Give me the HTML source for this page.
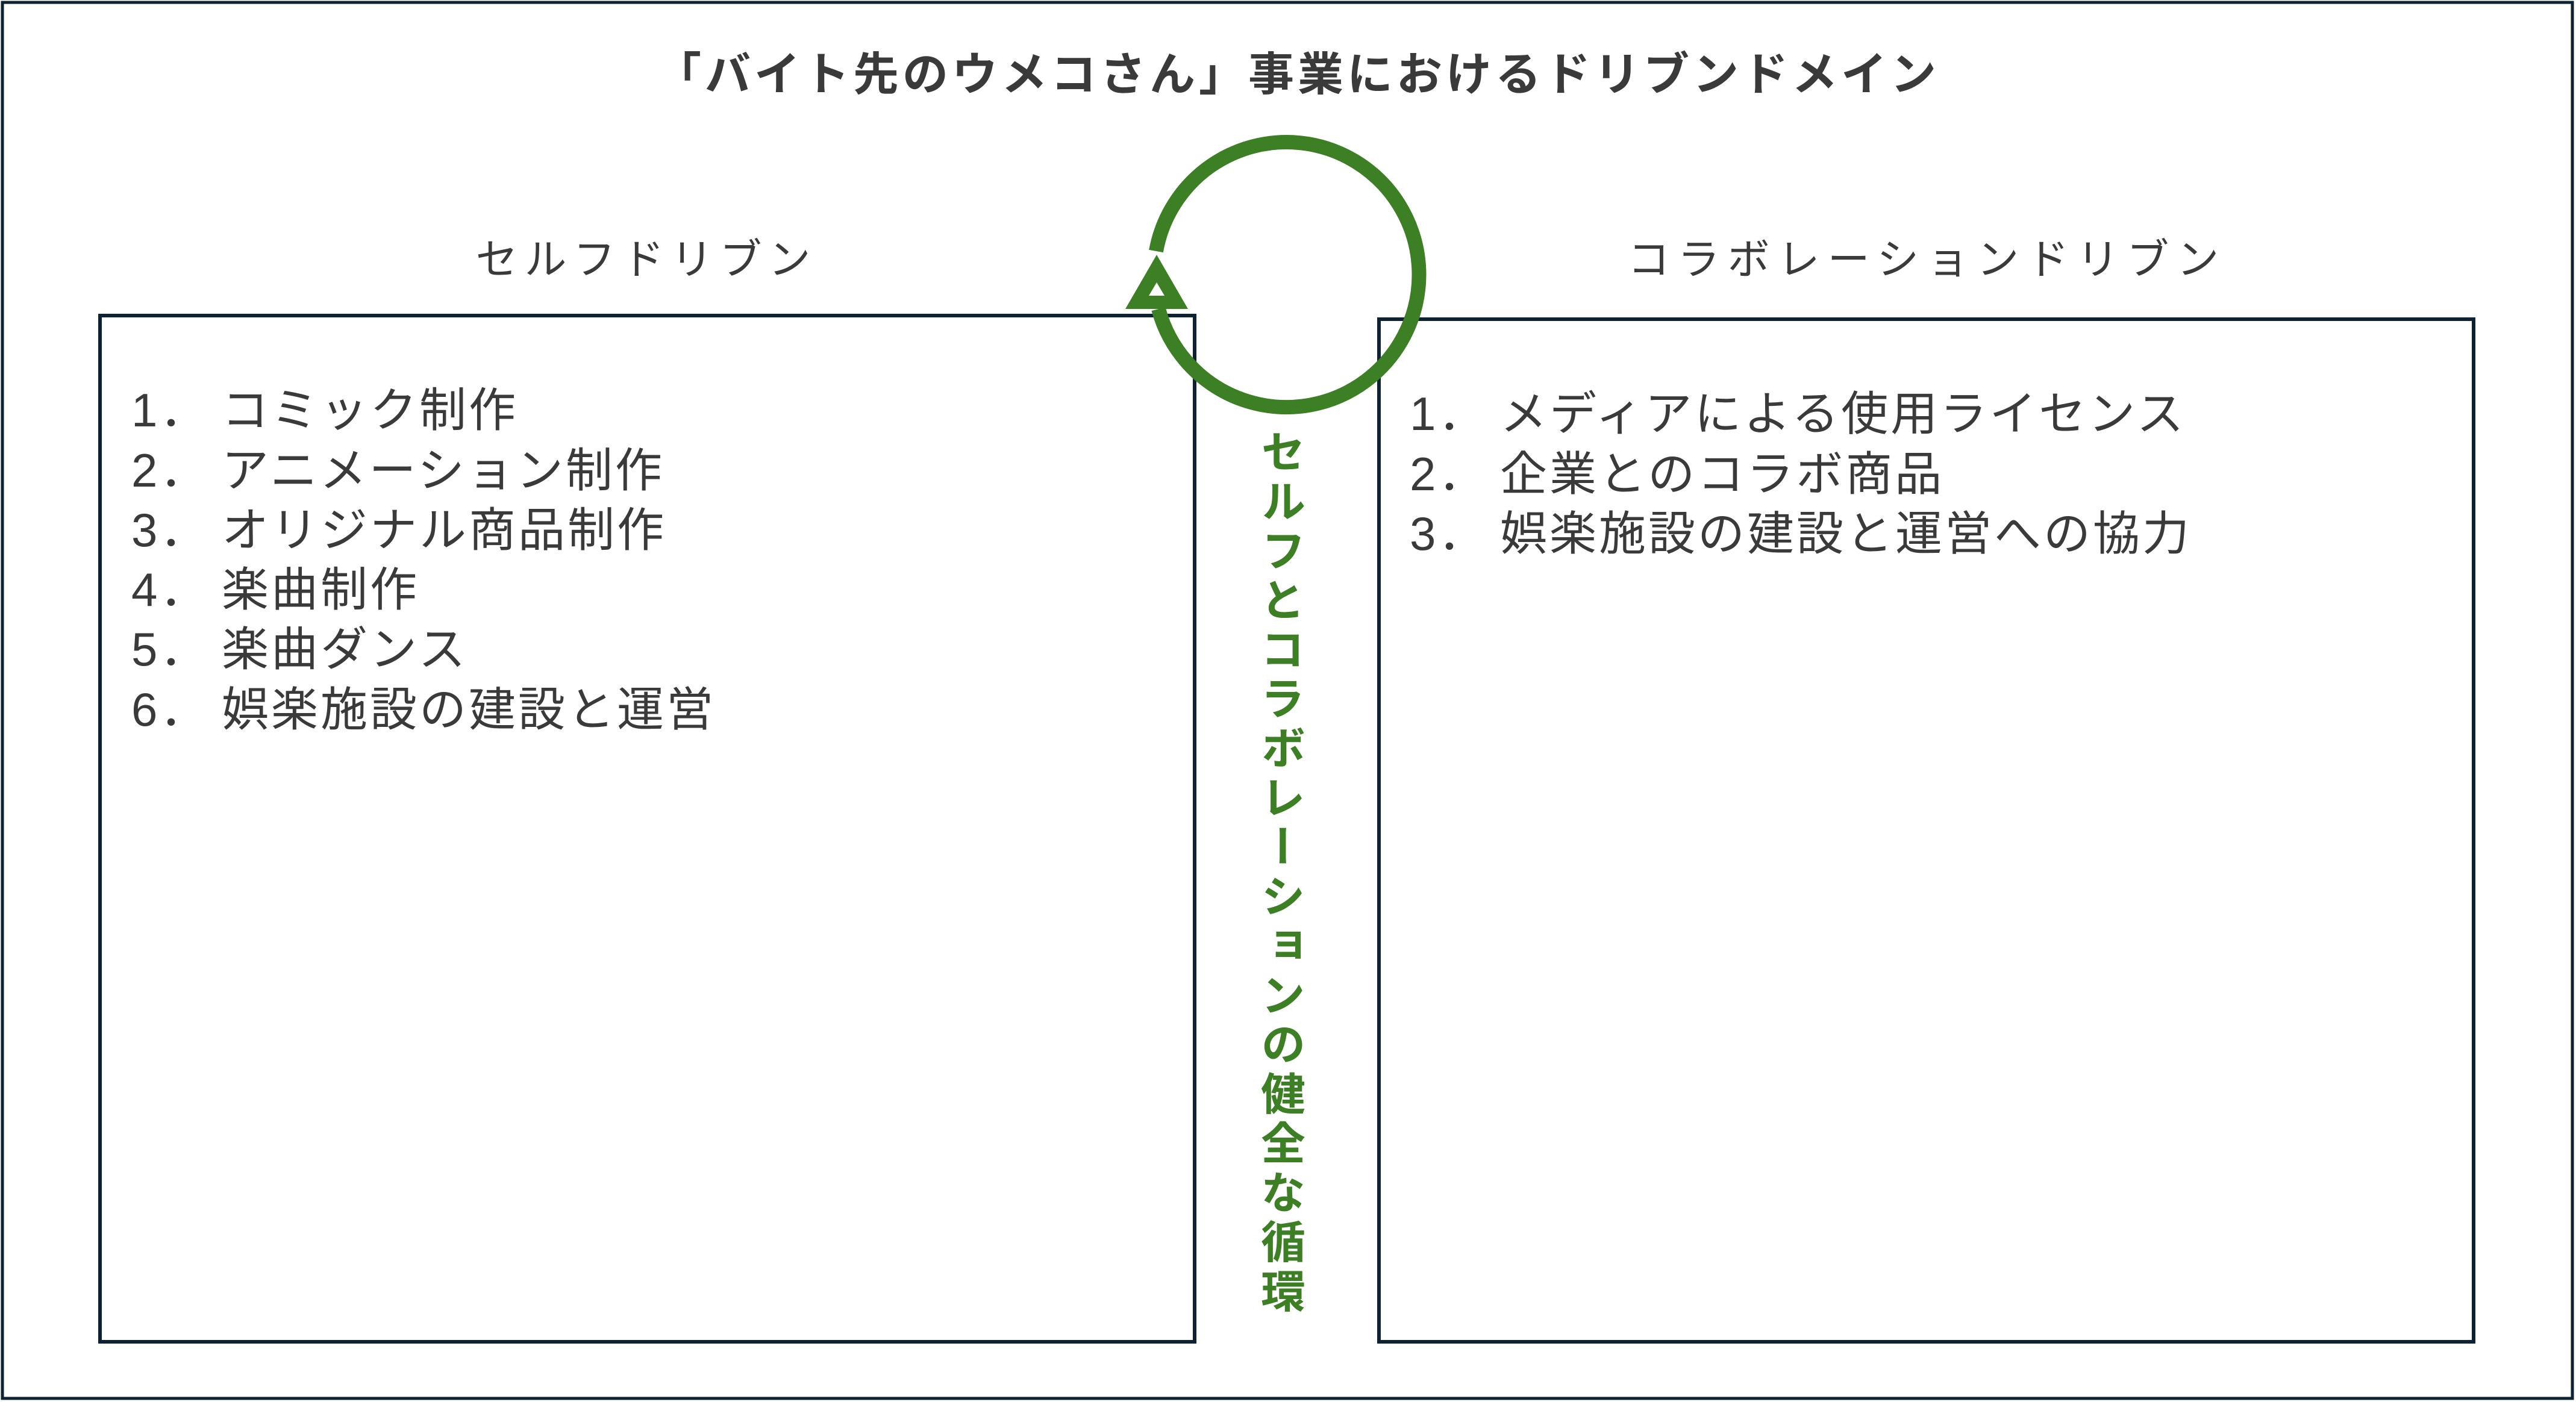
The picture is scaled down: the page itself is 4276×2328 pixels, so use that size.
<!DOCTYPE html>
<html><head><meta charset="utf-8"><style>
html,body{margin:0;padding:0;background:#fff;}
body{width:4276px;height:2328px;position:relative;overflow:hidden;font-family:"Liberation Sans","Noto Sans CJK JP",sans-serif;}
</style></head><body>
<svg width="4276" height="2328" viewBox="0 0 4276 2328" xmlns="http://www.w3.org/2000/svg" style="position:absolute;left:0;top:0">
<rect x="4" y="4" width="4266" height="2318" fill="none" stroke="#0d2233" stroke-width="5"/>
<rect x="166" y="524" width="1817" height="1704" fill="none" stroke="#0d2233" stroke-width="6"/>
<rect x="2289" y="530" width="1817" height="1698" fill="none" stroke="#0d2233" stroke-width="6"/>
<g font-family="'Liberation Sans','Noto Sans CJK JP',sans-serif" fill="#3a3a3a">
<text x="2154" y="150" font-size="76" font-weight="bold" text-anchor="middle" letter-spacing="6">「バイト先のウメコさん」事業におけるドリブンドメイン</text>
<text x="1073" y="455" font-size="70" text-anchor="middle" letter-spacing="11">セルフドリブン</text>
<text x="3199" y="455" font-size="70" text-anchor="middle" letter-spacing="13">コラボレーションドリブン</text>
<g font-size="78" letter-spacing="4">
<text x="218" y="708">1．</text><text x="368" y="708">コミック制作</text>
<text x="218" y="808">2．</text><text x="368" y="808">アニメーション制作</text>
<text x="218" y="907">3．</text><text x="368" y="907">オリジナル商品制作</text>
<text x="218" y="1006">4．</text><text x="368" y="1006">楽曲制作</text>
<text x="218" y="1105">5．</text><text x="368" y="1105">楽曲ダンス</text>
<text x="218" y="1205">6．</text><text x="368" y="1205">娯楽施設の建設と運営</text>
<text x="2340" y="714">1．</text><text x="2490" y="714">メディアによる使用ライセンス</text>
<text x="2340" y="814">2．</text><text x="2490" y="814">企業とのコラボ商品</text>
<text x="2340" y="913">3．</text><text x="2490" y="913">娯楽施設の建設と運営への協力</text>
</g>
</g>
<path d="M 1919 417 A 220 220 0 1 1 1923 513" fill="none" stroke="#3d7f24" stroke-width="24"/>
<polygon points="1920,423 1972,513 1868,513" fill="#3d7f24"/>
<polygon points="1920,469 1933,491 1907,491" fill="#fff"/>
<text x="2124" y="712" font-size="74" font-weight="bold" fill="#3d7f24" font-family="'Liberation Sans','Noto Sans CJK JP',sans-serif" style="writing-mode:vertical-rl;glyph-orientation-vertical:0" letter-spacing="8">セルフとコラボレーションの健全な循環</text>
</svg>
</body></html>
